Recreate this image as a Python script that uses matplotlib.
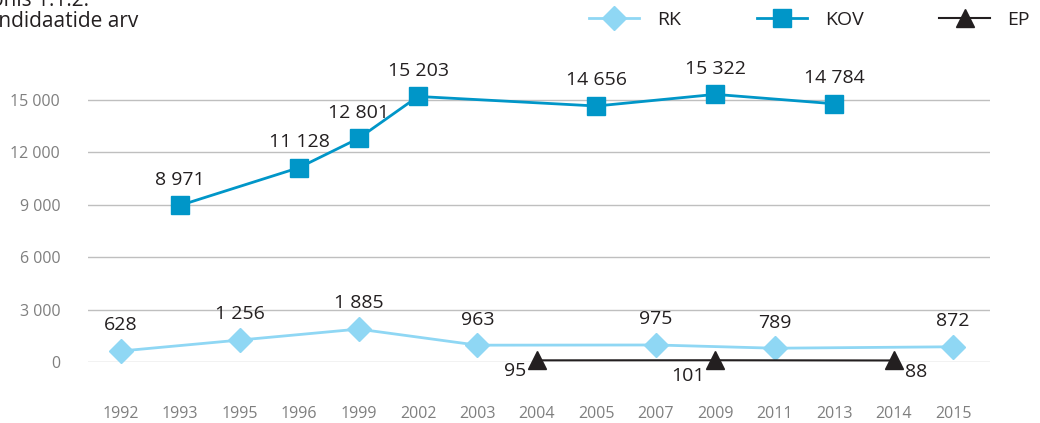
import matplotlib
matplotlib.use("Agg")
import matplotlib.pyplot as plt
from matplotlib.ticker import FuncFormatter

plt.rcParams['font.family'] = ['Open Sans', 'DejaVu Sans']

years = ["1992", "1993", "1995", "1996", "1999", "2002", "2003", "2004",
         "2005", "2007", "2009", "2011", "2013", "2014", "2015"]

rk_years = ["1992", "1995", "1999", "2003", "2007", "2011", "2015"]
rk_values = [628, 1256, 1885, 963, 975, 789, 872]

kov_years = ["1993", "1996", "1999", "2002", "2005", "2009", "2013"]
kov_values = [8971, 11128, 12801, 15203, 14656, 15322, 14784]

ep_years = ["2004", "2009", "2014"]
ep_values = [95, 101, 88]

y_ticks = [0, 3000, 6000, 9000, 12000, 15000]

c_rk = "#8FD7F4"
c_kov = "#0096C8"
c_ep = "#231F20"
c_txt = "#231F20"
c_tick = "#7F7F7F"


def fmt(v):
    return f"{int(v):,}".replace(",", " ")


def idx(ys):
    return [years.index(y) for y in ys]


fig = plt.figure(figsize=(10.4, 4.23), dpi=100)
ax = fig.add_axes([0.0846, 0.1442, 0.952 - 0.0846, 0.6194 * 1.2])

rx, kx, ex = idx(rk_years), idx(kov_years), idx(ep_years)

ax.plot(rx, rk_values, color=c_rk, lw=2, marker="D", ms=12, mec=c_rk,
        mfc=c_rk, label="RK", clip_on=False, zorder=3)
ax.plot(kx, kov_values, color=c_kov, lw=2, marker="s", ms=13.5, mec=c_kov,
        mfc=c_kov, label="KOV", clip_on=False, zorder=3)
ax.plot(ex, ep_values, color=c_ep, lw=1.5, marker="^", ms=13, mec=c_ep,
        mfc=c_ep, label="EP", clip_on=False, zorder=4)

for x, v in zip(rx, rk_values):
    ax.annotate(fmt(v), (x, v), xytext=(0, 12), textcoords="offset points",
                ha="center", va="bottom", fontsize=14, color=c_txt)
for x, v in zip(kx, kov_values):
    ax.annotate(fmt(v), (x, v), xytext=(0, 12), textcoords="offset points",
                ha="center", va="bottom", fontsize=14, color=c_txt)
ep_offsets = [(-8, -8, "right"), (-8, -11, "right"), (8, -8, "left")]
for (x, v), (dx, dy, ha) in zip(zip(ex, ep_values), ep_offsets):
    ax.annotate(fmt(v), (x, v), xytext=(dx, dy), textcoords="offset points",
                ha=ha, va="center", fontsize=14, color=c_txt)

ax.set_xlim(-0.55, 14.62)
ax.set_ylim(0, 18000)
ax.set_xticks(range(len(years)))
ax.set_xticklabels(years)
ax.set_yticks(y_ticks)
ax.yaxis.set_major_formatter(FuncFormatter(lambda v, p: fmt(v)))
ax.tick_params(axis="both", length=0, labelsize=11.5, labelcolor=c_tick)
ax.tick_params(axis="y", pad=20)
ax.tick_params(axis="x", pad=32)
ax.grid(axis="y", color="#BFBFBF", lw=1)
ax.set_axisbelow(True)
for s in ax.spines.values():
    s.set_visible(False)

fig.text(-0.025, 0.986, "Joonis 1.1.2.", ha="left", va="baseline",
         fontsize=15, color=c_txt)
fig.text(-0.025, 0.936, "Kandidaatide arv", ha="left", va="baseline",
         fontsize=15, color=c_txt)

leg = fig.legend(loc="upper right", bbox_to_anchor=(1.007, 1.015), ncol=3,
                 frameon=False, fontsize=14, handlelength=2.6,
                 columnspacing=3.9, handletextpad=0.9)
for t in leg.get_texts():
    t.set_color(c_txt)

fig.savefig("out.png", dpi=100)
